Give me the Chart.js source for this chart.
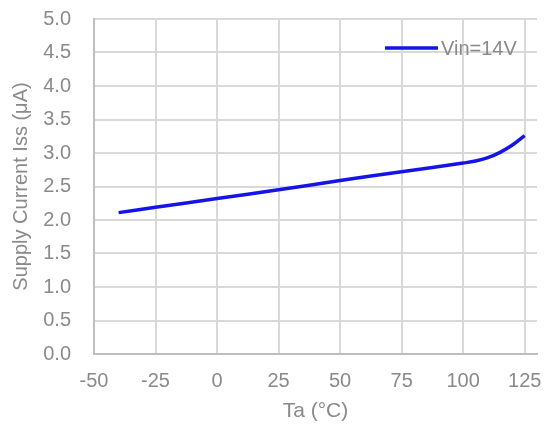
<!DOCTYPE html>
<html><head><meta charset="utf-8">
<script src="https://cdn.jsdelivr.net/npm/chart.js@4.4.0/dist/chart.umd.min.js"></script>
<style>html,body{margin:0;padding:0;background:#fff}#wrap{width:551px;height:427px}</style>
</head><body><div id="wrap"><canvas id="c" width="551" height="427"></canvas></div>
<script>
const temps = [-40, -25, 0, 25, 50, 75, 100, 105, 110, 115, 120, 125];
const iss14 = [2.11, 2.19, 2.32, 2.45, 2.59, 2.72, 2.85, 2.88, 2.93, 3.01, 3.12, 3.26];
const seriesLabel = 'Vin=14V';
const xTitle = 'Ta (°C)';
const yTitle = 'Supply Current Iss (μA)';

const FONT = '"Liberation Sans", Arial, sans-serif';
const GRAY = '#8a8a8a';

const legendInside = {
  id: 'legendInside',
  afterDraw(chart) {
    const ctx = chart.ctx;
    const ds = chart.data.datasets[0];
    ctx.save();
    ctx.strokeStyle = ds.borderColor;
    ctx.lineWidth = 3.5;
    ctx.beginPath();
    ctx.moveTo(385, 48);
    ctx.lineTo(438, 48);
    ctx.stroke();
    ctx.fillStyle = GRAY;
    ctx.font = '20px ' + FONT;
    ctx.textBaseline = 'middle';
    ctx.fillText(ds.label, 441, 49);
    ctx.restore();
  }
};

new Chart(document.getElementById('c'), {
  type: 'line',
  data: {
    datasets: [{
      label: seriesLabel,
      data: temps.map((t, i) => ({x: t, y: iss14[i]})),
      borderColor: '#1414e6',
      borderWidth: 3.5,
      pointRadius: 0,
      fill: false,
      tension: 0.4
    }]
  },
  options: {
    responsive: false,
    animation: false,
    layout: {padding: {top: 19, right: 14, left: 0, bottom: 0}},
    plugins: {legend: {display: false}, tooltip: {enabled: false}},
    scales: {
      x: {
        type: 'linear', min: -50, max: 130,
        ticks: {stepSize: 25, includeBounds: false, color: GRAY, font: {family: FONT, size: 20}, padding: 0, maxRotation: 0},
        grid: {color: '#d9d9d9', lineWidth: 2, drawTicks: true, tickLength: 15, tickColor: 'rgba(0,0,0,0)'},
        border: {color: '#bfbfbf', width: 2},
        title: {display: true, text: xTitle, color: GRAY, font: {family: FONT, size: 21}, padding: {top: 2, bottom: 3}},
        afterFit(s) { s.height = 73; }
      },
      y: {
        min: 0, max: 5,
        ticks: {stepSize: 0.5, color: GRAY, font: {family: FONT, size: 20}, padding: 0, callback: v => v.toFixed(1)},
        grid: {color: '#d9d9d9', lineWidth: 2, drawTicks: true, tickLength: 23, tickColor: 'rgba(0,0,0,0)'},
        border: {color: '#bfbfbf', width: 2},
        title: {display: true, text: yTitle, color: GRAY, font: {family: FONT, size: 20}, padding: {top: 9, bottom: 0}},
        afterFit(s) { s.width = 94; }
      }
    }
  },
  plugins: [legendInside]
});
</script></body></html>
